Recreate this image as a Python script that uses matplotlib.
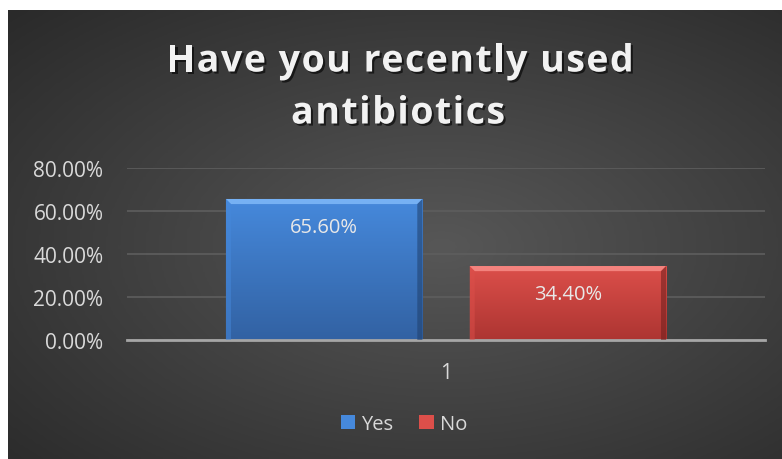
import numpy as np
import matplotlib
matplotlib.use("Agg")
import matplotlib.pyplot as plt
import matplotlib.patheffects as pe
from matplotlib.patches import Polygon
from matplotlib.ticker import FuncFormatter, MultipleLocator
from matplotlib.colors import LinearSegmentedColormap
from matplotlib.font_manager import FontProperties

# Data
categories = ["1"]
series_names = ["Yes", "No"]
values = [0.656, 0.344]
value_labels = ["65.60%", "34.40%"]
title_lines = ["Have you recently used", "antibiotics"]

W, H = 782, 460
FONT = "Open Sans"
TXT = "#d9d9d9"
fig = plt.figure(figsize=(W / 100, H / 100), dpi=100)
fig.patch.set_facecolor("white")

# Dark radial-gradient chart area
bg = fig.add_axes([8 / W, 0, 1 - 8 / W, 1 - 11 / H])
bg.set_axis_off()
yy, xx = np.mgrid[0:200, 0:340]
cx, cy = 190, 105
r = np.sqrt(((xx - cx) / 300.0) ** 2 + ((yy - cy) / 170.0) ** 2)
shade = np.clip(r, 0, 1)
bg_cmap = LinearSegmentedColormap.from_list("bg", ["#575757", "#2a2a2a"])
bg.imshow(shade, cmap=bg_cmap, aspect="auto", extent=[0, 1, 0, 1], origin="upper",
          interpolation="bilinear")
bg.set_xlim(0, 1)
bg.set_ylim(0, 1)

ax = fig.add_axes([127 / W, (H - 341) / H, (765 - 127) / W, (341 - 169) / H])
ax.patch.set_alpha(0)
ax.set_xlim(-0.5, 0.5)
ax.set_ylim(0, 0.8)

# grid and axes
ax.yaxis.set_major_locator(MultipleLocator(0.2))
ax.yaxis.set_major_formatter(FuncFormatter(lambda v, p: f"{v * 100:.2f}%"))
ax.grid(axis="y", color="#5e5e5e", linewidth=1.2)
ax.set_axisbelow(True)
for s in ["top", "right", "left"]:
    ax.spines[s].set_visible(False)
ax.spines["bottom"].set_color("#a6a6a6")
ax.spines["bottom"].set_linewidth(2)
ax.tick_params(axis="y", length=0, pad=17, labelcolor=TXT)
ax.tick_params(axis="x", length=0, pad=16, labelcolor=TXT)
ax.set_xticks([0])
ax.set_xticklabels(categories)
for lab in ax.get_xticklabels() + ax.get_yticklabels():
    lab.set_fontfamily(FONT)
    lab.set_fontsize(15)

bar_w = 0.308
offsets = [-0.191, 0.191]
top_colors = ["#4689dc", "#dc4f4a"]
bot_colors = ["#3262a3", "#ad3532"]
light_colors = ["#8cc3ff", "#ff9a95"]
dark_colors = ["#1f3f6b", "#6e1f1d"]

handles = []
for i, (name, v) in enumerate(zip(series_names, values)):
    bars = ax.bar(offsets[i], v, width=bar_w, color=top_colors[i], label=name,
                  edgecolor="none", zorder=2)
    p = bars[0]
    x0, w, h = p.get_x(), p.get_width(), p.get_height()
    grad = np.linspace(0, 1, 100).reshape(-1, 1)
    cmap = LinearSegmentedColormap.from_list("b", [top_colors[i], bot_colors[i]])
    im = ax.imshow(grad, cmap=cmap, aspect="auto", extent=[x0, x0 + w, 0, h],
                   origin="upper", zorder=2.5)
    im.set_clip_path(p)
    # bevel edges
    bx = 0.008
    by = bx * (0.8 / 1.0) * (638 / 172)
    bev_top = Polygon([[x0, h], [x0 + w, h], [x0 + w - bx, h - by], [x0 + bx, h - by]],
                      closed=True, facecolor=light_colors[i], alpha=0.7,
                      edgecolor="none", zorder=3)
    bev_left = Polygon([[x0, 0], [x0, h], [x0 + bx, h - by], [x0 + bx, 0]],
                       closed=True, facecolor=top_colors[i], alpha=0.5,
                       edgecolor="none", zorder=3)
    bev_right = Polygon([[x0 + w, 0], [x0 + w, h], [x0 + w - bx, h - by], [x0 + w - bx, 0]],
                        closed=True, facecolor=dark_colors[i], alpha=0.55,
                        edgecolor="none", zorder=3)
    for poly in (bev_top, bev_left, bev_right):
        ax.add_patch(poly)
    ax.annotate(value_labels[i], (x0 + w / 2, h), xytext=(0, -20), textcoords="offset points",
                ha="center", va="center", fontsize=14.5, family=FONT, color="#e8e8e8", zorder=4)
    handles.append(bars)

leg = fig.legend(handles=[h[0] for h in handles], labels=series_names,
                 loc="center", bbox_to_anchor=(404 / W, (H - 425) / H), ncol=2,
                 frameon=False, prop=FontProperties(family=FONT, size=14.5), labelcolor=TXT,
                 handlelength=0.7, handleheight=0.7, handletextpad=0.3,
                 columnspacing=1.3)

# Title drawn glyph by glyph with extra letter spacing
renderer = fig.canvas.get_renderer()
tprop = FontProperties(family=FONT, weight="bold", size=27)
title_fx = [pe.withSimplePatchShadow(offset=(1.5, -1.5), shadow_rgbFace="black", alpha=0.6)]


def text_w(s):
    if not s:
        return 0.0
    wd, _, _ = renderer.get_text_width_height_descent(s, tprop, ismath=False)
    return wd


def tracked_title(s, xc, yc, track):
    total = text_w(s) + track * (len(s) - 1)
    left = xc - total / 2
    for k, ch in enumerate(s):
        if ch == " ":
            continue
        xk = left + text_w(s[:k + 1]) - text_w(ch) + track * k
        fig.text(xk / W, (H - yc) / H, ch, ha="left", va="center_baseline",
                 fontproperties=tprop, color="#f2f2f2", path_effects=title_fx)


tracked_title(title_lines[0], 400, 58, 1.5)
tracked_title(title_lines[1], 398, 110, 1.5)

fig.savefig("out.png", dpi=100, facecolor=fig.get_facecolor())
